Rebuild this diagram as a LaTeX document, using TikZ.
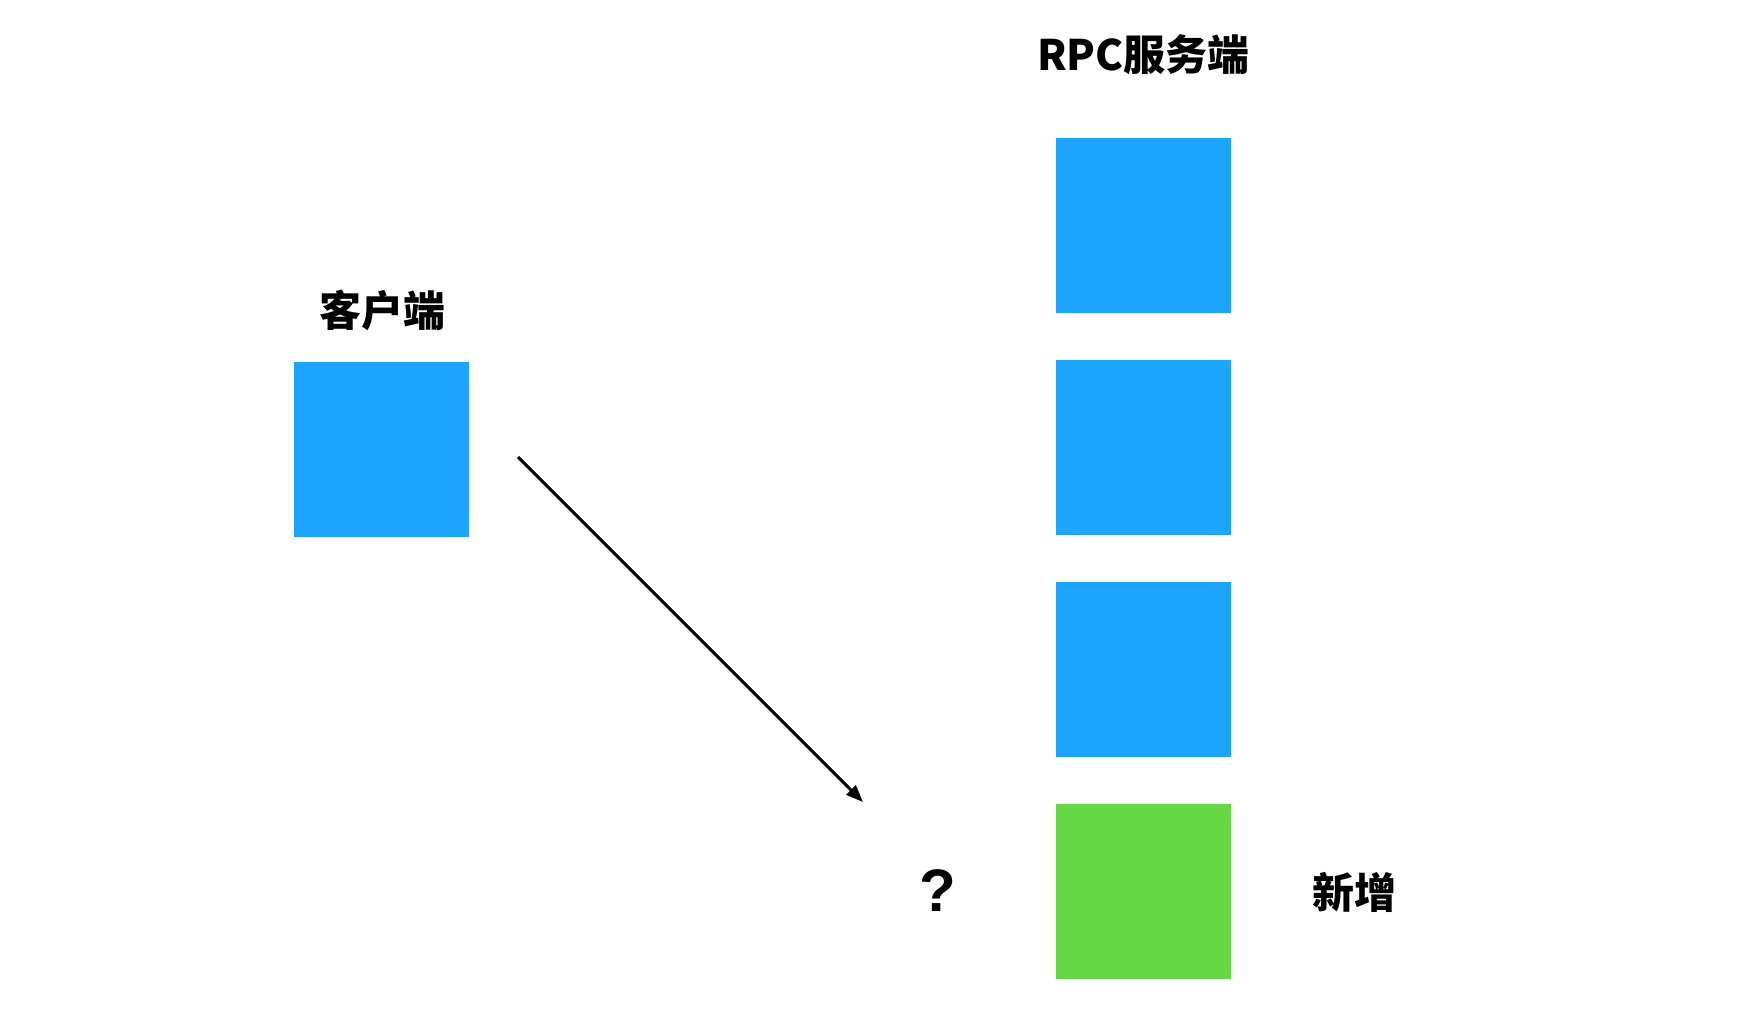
\documentclass[tikz,border=0pt]{standalone}
\usepackage{fontspec}
\newfontfamily\cjk{Noto Sans CJK SC}
\setmainfont{Liberation Sans}
\usetikzlibrary{arrows.meta}
\definecolor{boxblue}{RGB}{29,164,254}
\definecolor{boxgreen}{RGB}{101,215,69}
\tikzset{
    server/.style={fill=boxblue, minimum size=87.5pt, inner sep=0pt},
    label/.style={font=\cjk\bfseries\fontsize{21}{24}\selectfont, inner sep=0pt}
}
\begin{document}
\begin{tikzpicture}[x=0.5pt, y=-0.5pt]
    \useasboundingbox (0, 0) rectangle (1752, 1016);
    % client
    \node [label] (clientlabel) at (382, 310) {客户端};
    \node [server] (client) at (381.5, 449.5) {};
    % servers
    \node [label] (serverlabel) at (1143.5, 55) {RPC服务端};
    \node [server] (s1) at (1143.5, 225.5) {};
    \node [server] (s2) at (1143.5, 447.5) {};
    \node [server] (s3) at (1143.5, 669.5) {};
    \node [server, fill=boxgreen] (snew) at (1143.5, 891.5) {};
    \node [label] (newlabel) at (1354, 892) {新增};
    \node [font=\bfseries\fontsize{30}{34}\selectfont, inner sep=0pt] (ask) at (937.5, 891) {?};
    % request
    \coordinate (from) at (518, 457);
    \coordinate (to) at (863, 802);
    \draw [line width=1.5pt, -{Triangle[length=8.5pt, width=6.5pt]}] (from) -- (to);
\end{tikzpicture}
\end{document}
